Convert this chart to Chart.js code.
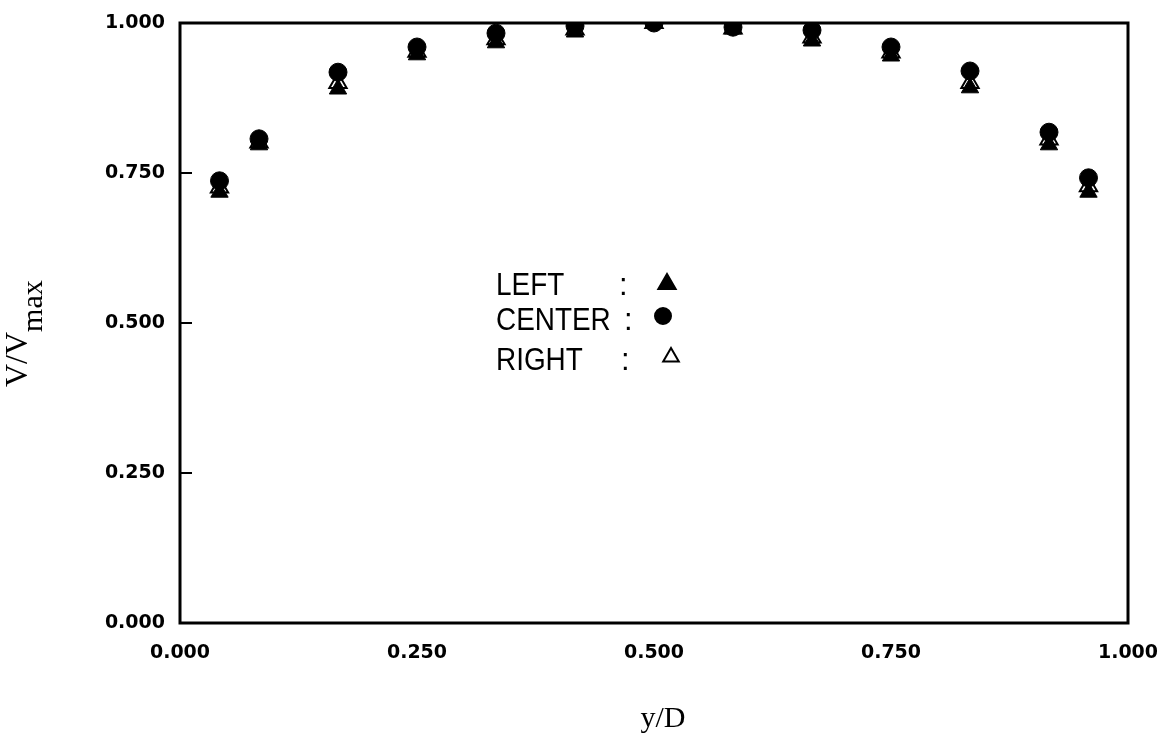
<!DOCTYPE html>
<html>
<head>
<meta charset="utf-8">
<title>V/Vmax vs y/D</title>
<script src="https://cdn.jsdelivr.net/npm/chart.js@4.4.1/dist/chart.umd.min.js"></script>
<style>
  html, body { margin: 0; padding: 0; background: #fff; }
  #chart-container { width: 1171px; height: 741px; position: relative; }
</style>
</head>
<body>
<div id="chart-container"><canvas id="profile-chart" width="1171" height="741"></canvas></div>
<script>
// Measuring positions across the duct (y/D)
var positions = [1/24, 1/12, 1/6, 1/4, 1/3, 5/12, 1/2, 7/12, 2/3, 3/4, 5/6, 11/12, 23/24];

// Normalised velocity for each probe
var leftValues   = [0.718, 0.797, 0.890, 0.947, 0.967, 0.985, 1.000, 0.990, 0.970, 0.945, 0.892, 0.797, 0.718];
var centerValues = [0.737, 0.807, 0.918, 0.960, 0.983, 0.995, 1.000, 0.993, 0.988, 0.960, 0.920, 0.818, 0.742];
var rightValues  = [0.726, 0.801, 0.900, 0.952, 0.973, 0.989, 1.000, 0.991, 0.976, 0.951, 0.900, 0.806, 0.728];

// Axis ticks
var xTicks = [0, 0.25, 0.5, 0.75, 1];
var yTicks = [0, 0.25, 0.5, 0.75, 1];

function toPoints(values) {
  return values.map(function (v, i) { return { x: positions[i], y: v }; });
}

var tickFont = { family: 'DejaVu Sans', size: 19, weight: 'bold' };
var legendFont = "31px 'Liberation Sans', Arial, sans-serif";

// Frame, inner ticks, legend and axis titles drawn on top of the chart
var decorations = {
  id: 'decorations',
  afterDraw: function (chart) {
    var ctx = chart.ctx;
    var area = chart.chartArea;
    var yScale = chart.scales.y;
    ctx.save();

    // plot frame
    ctx.strokeStyle = '#000';
    ctx.lineWidth = 3;
    ctx.strokeRect(area.left, area.top, area.right - area.left, area.bottom - area.top);

    // small inner ticks on the left axis
    ctx.lineWidth = 2;
    yTicks.forEach(function (t) {
      var py = yScale.getPixelForValue(t);
      ctx.beginPath();
      ctx.moveTo(area.left, py);
      ctx.lineTo(area.left + 12, py);
      ctx.stroke();
    });

    // legend block inside the plot
    var rows = [
      { label: 'LEFT',   colonX: 623, markX: 667, markY: 284, baseY: 295, style: 'triangle', fill: '#000', r: 10 },
      { label: 'CENTER', colonX: 628, markX: 663, markY: 316, baseY: 330, style: 'circle',   fill: '#000', r: 8 },
      { label: 'RIGHT',  colonX: 625, markX: 671, markY: 357, baseY: 370, style: 'triangle', fill: '#fff', r: 9 }
    ];
    ctx.fillStyle = '#000';
    ctx.textAlign = 'left';
    ctx.textBaseline = 'alphabetic';
    rows.forEach(function (row) {
      ctx.save();
      ctx.font = legendFont;
      ctx.translate(496, row.baseY);
      ctx.scale(0.9, 1);
      ctx.fillText(row.label, 0, 0);
      ctx.restore();
      ctx.font = legendFont;
      ctx.fillText(':', row.colonX - 4, row.baseY);

      ctx.fillStyle = row.fill;
      ctx.strokeStyle = '#000';
      Chart.helpers.drawPoint(ctx, {
        pointStyle: row.style, radius: row.r, rotation: 0, borderWidth: 2
      }, row.markX, row.markY);
      ctx.fillStyle = '#000';
    });

    // y axis title: V/V with "max" subscript, rotated
    ctx.save();
    ctx.translate(27, 387);
    ctx.rotate(-Math.PI / 2);
    ctx.font = "32px 'Liberation Serif', 'Times New Roman', serif";
    ctx.fillText('V/V', 0, 0);
    var w = ctx.measureText('V/V').width;
    ctx.font = "30px 'Liberation Serif', 'Times New Roman', serif";
    ctx.fillText('max', w, 15);
    ctx.restore();

    // x axis title
    ctx.font = "30px 'Liberation Serif', 'Times New Roman', serif";
    ctx.textAlign = 'center';
    ctx.fillText('y/D', 663, 727);

    ctx.restore();
  }
};

var ctx = document.getElementById('profile-chart').getContext('2d');
var chart = new Chart(ctx, {
  type: 'scatter',
  data: {
    datasets: [
      {
        label: 'CENTER',
        data: toPoints(centerValues),
        pointStyle: 'circle',
        pointRadius: 9,
        backgroundColor: '#000',
        borderColor: '#000',
        borderWidth: 1,
        order: 1
      },
      {
        label: 'LEFT',
        data: toPoints(leftValues),
        pointStyle: 'triangle',
        pointRadius: 10,
        backgroundColor: '#000',
        borderColor: '#000',
        borderWidth: 1,
        order: 2
      },
      {
        label: 'RIGHT',
        data: toPoints(rightValues),
        pointStyle: 'triangle',
        pointRadius: 10,
        backgroundColor: '#fff',
        borderColor: '#000',
        borderWidth: 2,
        order: 3
      }
    ]
  },
  options: {
    responsive: false,
    animation: false,
    devicePixelRatio: 1,
    layout: { padding: { left: 0, top: 23, right: 43, bottom: 0 } },
    plugins: {
      legend: { display: false },
      tooltip: { enabled: false }
    },
    scales: {
      x: {
        type: 'linear',
        min: 0,
        max: 1,
        afterFit: function (scale) {
          // fixed band under the plot, no extra room for the end labels
          scale.height = 118;
          scale.paddingLeft = 0;
          scale.paddingRight = 0;
        },
        afterBuildTicks: function (scale) {
          scale.ticks = xTicks.map(function (v) { return { value: v }; });
        },
        grid: { display: false, drawTicks: false },
        border: { display: false },
        ticks: {
          color: '#000',
          font: tickFont,
          padding: 19,
          maxRotation: 0,
          callback: function (v) { return Number(v).toFixed(3); }
        }
      },
      y: {
        type: 'linear',
        min: 0,
        max: 1,
        afterFit: function (scale) {
          scale.width = 180;
          scale.paddingTop = 0;
          scale.paddingBottom = 0;
        },
        afterBuildTicks: function (scale) {
          scale.ticks = yTicks.map(function (v) { return { value: v }; });
        },
        grid: { display: false, drawTicks: false },
        border: { display: false },
        ticks: {
          color: '#000',
          font: tickFont,
          padding: 15,
          callback: function (v) { return Number(v).toFixed(3); }
        }
      }
    }
  },
  plugins: [decorations]
});
</script>
</body>
</html>
